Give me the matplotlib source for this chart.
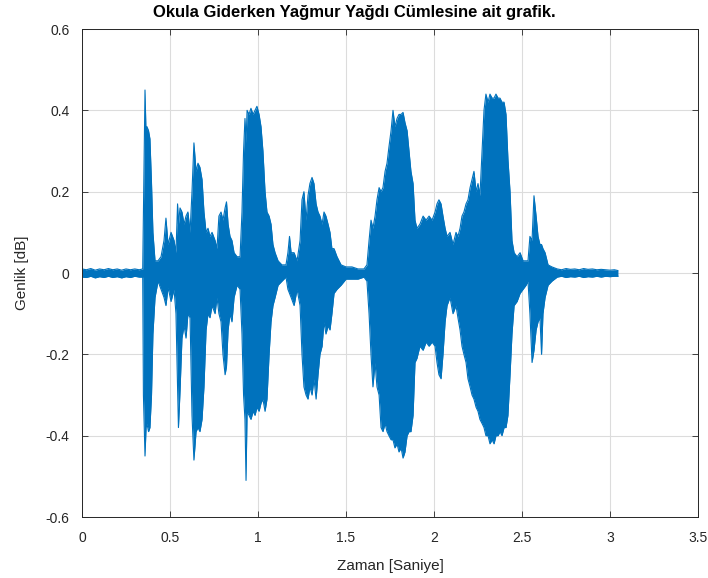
import matplotlib.pyplot as plt

# zarf (envelope) degerleri: zaman [s], ust ve alt genlik
zaman = [0.000, 0.025, 0.050, 0.075, 0.100, 0.125, 0.150, 0.175, 0.200, 0.225,
         0.250, 0.275, 0.300, 0.325, 0.345, 0.349, 0.358, 0.364, 0.369, 0.378,
         0.386, 0.395, 0.403, 0.415, 0.432, 0.449, 0.466, 0.477, 0.489, 0.506,
         0.523, 0.534, 0.543, 0.548, 0.557, 0.568, 0.580, 0.591, 0.602, 0.614,
         0.625, 0.636, 0.648, 0.659, 0.670, 0.682, 0.693, 0.705, 0.716, 0.727,
         0.739, 0.756, 0.767, 0.778, 0.790, 0.801, 0.813, 0.821, 0.830, 0.841,
         0.852, 0.864, 0.881, 0.898, 0.909, 0.918, 0.926, 0.932, 0.938, 0.949,
         0.960, 0.972, 0.983, 0.994, 1.006, 1.017, 1.028, 1.040, 1.051, 1.063,
         1.074, 1.085, 1.097, 1.114, 1.136, 1.159, 1.170, 1.179, 1.188, 1.205,
         1.222, 1.239, 1.250, 1.261, 1.273, 1.284, 1.295, 1.307, 1.318, 1.330,
         1.341, 1.352, 1.364, 1.375, 1.386, 1.398, 1.409, 1.420, 1.432, 1.449,
         1.472, 1.500, 1.534, 1.568, 1.602, 1.619, 1.631, 1.642, 1.653, 1.665,
         1.676, 1.688, 1.699, 1.710, 1.722, 1.733, 1.744, 1.756, 1.767, 1.778,
         1.790, 1.801, 1.813, 1.824, 1.835, 1.847, 1.858, 1.869, 1.881, 1.892,
         1.903, 1.920, 1.938, 1.955, 1.972, 1.989, 2.006, 2.017, 2.028, 2.040,
         2.051, 2.063, 2.074, 2.091, 2.108, 2.125, 2.136, 2.148, 2.159, 2.170,
         2.182, 2.193, 2.205, 2.216, 2.227, 2.239, 2.250, 2.261, 2.273, 2.284,
         2.295, 2.307, 2.318, 2.330, 2.341, 2.352, 2.364, 2.375, 2.386, 2.398,
         2.409, 2.420, 2.432, 2.443, 2.455, 2.472, 2.489, 2.506, 2.523, 2.534,
         2.545, 2.557, 2.568, 2.580, 2.591, 2.602, 2.611, 2.619, 2.631, 2.648,
         2.670, 2.700, 2.725, 2.750, 2.775, 2.800, 2.825, 2.850, 2.875, 2.900,
         2.925, 2.950, 2.975, 3.000, 3.025, 3.045]

ust = [0.010, 0.008, 0.011, 0.007, 0.010, 0.008, 0.011, 0.008, 0.010, 0.007,
       0.010, 0.008, 0.010, 0.008, 0.010, 0.150, 0.450, 0.340, 0.360, 0.350,
       0.330, 0.220, 0.100, 0.030, 0.030, 0.040, 0.080, 0.135, 0.070, 0.100,
       0.080, 0.050, 0.170, 0.120, 0.160, 0.150, 0.120, 0.140, 0.150, 0.100,
       0.200, 0.320, 0.250, 0.270, 0.260, 0.230, 0.150, 0.100, 0.110, 0.090,
       0.100, 0.080, 0.060, 0.140, 0.150, 0.130, 0.160, 0.175, 0.120, 0.090,
       0.080, 0.050, 0.040, 0.040, 0.150, 0.300, 0.380, 0.320, 0.400, 0.390,
       0.405, 0.390, 0.400, 0.410, 0.390, 0.360, 0.300, 0.200, 0.150, 0.140,
       0.120, 0.070, 0.050, 0.030, 0.020, 0.020, 0.050, 0.090, 0.050, 0.050,
       0.030, 0.080, 0.180, 0.200, 0.130, 0.190, 0.220, 0.235, 0.220, 0.170,
       0.150, 0.140, 0.120, 0.150, 0.140, 0.120, 0.100, 0.060, 0.060, 0.040,
       0.020, 0.015, 0.015, 0.010, 0.010, 0.020, 0.080, 0.130, 0.110, 0.140,
       0.180, 0.210, 0.200, 0.210, 0.250, 0.270, 0.310, 0.350, 0.400, 0.360,
       0.380, 0.390, 0.390, 0.395, 0.370, 0.350, 0.300, 0.250, 0.220, 0.130,
       0.110, 0.120, 0.140, 0.130, 0.140, 0.130, 0.150, 0.170, 0.180, 0.170,
       0.140, 0.110, 0.090, 0.100, 0.070, 0.100, 0.090, 0.110, 0.140, 0.150,
       0.170, 0.180, 0.210, 0.230, 0.250, 0.200, 0.220, 0.190, 0.300, 0.400,
       0.440, 0.420, 0.440, 0.430, 0.430, 0.440, 0.430, 0.430, 0.420, 0.420,
       0.390, 0.280, 0.200, 0.080, 0.050, 0.040, 0.050, 0.030, 0.030, 0.030,
       0.090, 0.080, 0.190, 0.140, 0.090, 0.070, 0.070, 0.060, 0.050, 0.020,
       0.015, 0.010, 0.008, 0.011, 0.009, 0.010, 0.008, 0.011, 0.009, 0.010,
       0.008, 0.009, 0.008, 0.007, 0.008, 0.006]

alt = [-0.010, -0.011, -0.008, -0.012, -0.009, -0.011, -0.008, -0.011, -0.009, -0.012,
       -0.009, -0.011, -0.008, -0.010, -0.010, -0.300, -0.450, -0.380, -0.370, -0.390,
       -0.380, -0.300, -0.150, -0.060, -0.020, -0.040, -0.060, -0.080, -0.035, -0.070,
       -0.040, -0.100, -0.280, -0.380, -0.290, -0.160, -0.130, -0.160, -0.100, -0.110,
       -0.350, -0.460, -0.390, -0.380, -0.390, -0.360, -0.280, -0.140, -0.100, -0.110,
       -0.080, -0.100, -0.060, -0.100, -0.120, -0.200, -0.250, -0.230, -0.140, -0.100,
       -0.120, -0.060, -0.030, -0.040, -0.150, -0.300, -0.360, -0.510, -0.340, -0.350,
       -0.360, -0.340, -0.350, -0.330, -0.340, -0.320, -0.310, -0.340, -0.310, -0.200,
       -0.120, -0.080, -0.060, -0.030, -0.020, -0.010, -0.040, -0.050, -0.060, -0.080,
       -0.040, -0.080, -0.200, -0.280, -0.300, -0.310, -0.280, -0.300, -0.260, -0.310,
       -0.250, -0.200, -0.180, -0.120, -0.150, -0.130, -0.140, -0.100, -0.050, -0.040,
       -0.030, -0.015, -0.015, -0.015, -0.010, -0.020, -0.100, -0.200, -0.280, -0.220,
       -0.280, -0.300, -0.380, -0.390, -0.370, -0.390, -0.400, -0.410, -0.410, -0.430,
       -0.420, -0.440, -0.430, -0.455, -0.440, -0.400, -0.390, -0.390, -0.350, -0.220,
       -0.210, -0.180, -0.190, -0.170, -0.180, -0.170, -0.180, -0.220, -0.250, -0.260,
       -0.200, -0.120, -0.080, -0.060, -0.100, -0.080, -0.110, -0.140, -0.180, -0.200,
       -0.220, -0.260, -0.280, -0.300, -0.310, -0.330, -0.340, -0.360, -0.370, -0.380,
       -0.400, -0.400, -0.420, -0.410, -0.420, -0.400, -0.400, -0.390, -0.400, -0.380,
       -0.380, -0.350, -0.250, -0.150, -0.080, -0.070, -0.050, -0.040, -0.030, -0.020,
       -0.100, -0.220, -0.190, -0.140, -0.120, -0.110, -0.200, -0.100, -0.060, -0.030,
       -0.020, -0.010, -0.008, -0.011, -0.009, -0.010, -0.008, -0.011, -0.009, -0.010,
       -0.008, -0.010, -0.008, -0.009, -0.008, -0.008]

x_ticks = [0, 0.5, 1, 1.5, 2, 2.5, 3, 3.5]
x_labels = ['0', '0.5', '1', '1.5', '2', '2.5', '3', '3.5']
y_ticks = [-0.6, -0.4, -0.2, 0, 0.2, 0.4, 0.6]
y_labels = ['-0.6', '-0.4', '-0.2', '0', '0.2', '0.4', '0.6']

renk = '#0072BD'

plt.rcParams['font.family'] = ['Liberation Sans', 'DejaVu Sans']

fig = plt.figure(figsize=(7.08, 5.78), dpi=100)
ax = fig.add_axes([0.1158, 0.1055, 0.8701, 0.8443])

ax.fill_between(zaman, alt, ust, color=renk, linewidth=0)
ax.plot(zaman, ust, color=renk, linewidth=0.8)
ax.plot(zaman, alt, color=renk, linewidth=0.8)

ax.set_xlim(0, 3.5)
ax.set_ylim(-0.6, 0.6)
ax.set_xticks(x_ticks)
ax.set_xticklabels(x_labels)
ax.set_yticks(y_ticks)
ax.set_yticklabels(y_labels)
ax.grid(True, color='#dcdcdc', linewidth=0.8)
ax.set_axisbelow(True)
ax.tick_params(direction='in', top=True, right=True, length=4, width=0.6,
               colors='#262626', labelsize=10)
ax.tick_params(axis='x', pad=10)
ax.tick_params(axis='y', pad=9)
for s in ax.spines.values():
    s.set_color('#262626')
    s.set_linewidth(0.7)

ax.set_xlabel('Zaman [Saniye]', fontsize=11, color='#262626', labelpad=10)
ax.set_ylabel('Genlik [dB]', fontsize=11, color='#262626', labelpad=12)
fig.text(0.5, 1 - 12 / 578, 'Okula Giderken Yağmur Yağdı Cümlesine ait grafik.',
         ha='center', va='center', fontsize=12, fontweight='bold')

fig.savefig('out.png', dpi=100)
